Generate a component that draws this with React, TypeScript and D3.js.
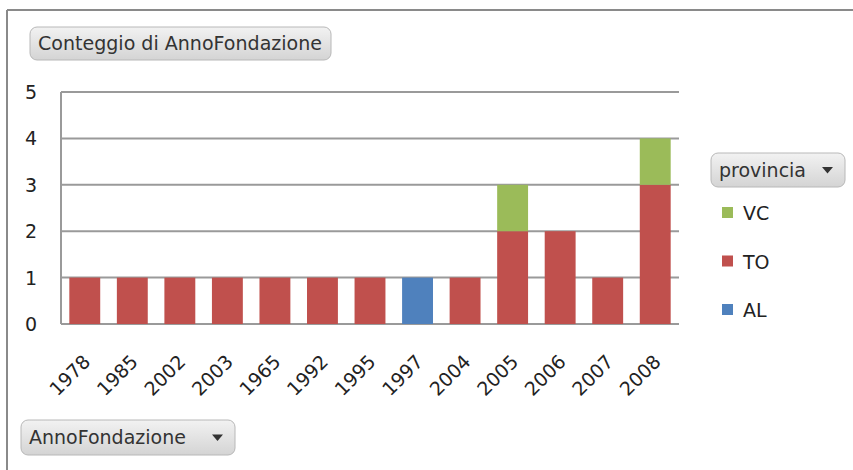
import React from "react";
import * as d3 from "d3";

const categories = ["1978","1985","2002","2003","1965","1992","1995","1997","2004","2005","2006","2007","2008"];
const AL = [0,0,0,0,0,0,0,1,0,0,0,0,0];
const TO = [1,1,1,1,1,1,1,0,1,2,2,1,3];
const VC = [0,0,0,0,0,0,0,0,0,1,0,0,1];
const seriesNames = ["AL","TO","VC"];
const seriesColors = ["#4f81bd","#c0504d","#9bbb59"];
const yTicks = [0,1,2,3,4,5];
const legendOrder = ["VC","TO","AL"];

const FONT = "'DejaVu Sans', sans-serif";

function Button({x, y, w, h, label, arrow, id, tl}: {x:number;y:number;w:number;h:number;label:string;arrow?:boolean;id:string;tl?:number}) {
  return (
    <g>
      <defs>
        <linearGradient id={id} x1="0" y1="0" x2="0" y2="1">
          <stop offset="0" stopColor="#f2f2f2" />
          <stop offset="1" stopColor="#d4d4d4" />
        </linearGradient>
      </defs>
      <rect x={x} y={y} width={w} height={h} rx={7} ry={7} fill={`url(#${id})`} stroke="#b8b8b8" strokeWidth={1} />
      <text x={x + 8} y={y + h / 2 + 6.5} fontFamily={FONT} fontSize={19} fill="#333"
        textLength={tl} lengthAdjust={tl ? "spacingAndGlyphs" : undefined}>{label}</text>
      {arrow && (
        <path d={`M${x + w - 23},${y + h / 2 - 3} l11,0 l-5.5,6.5 z`} fill="#333" />
      )}
    </g>
  );
}

export default function App() {
  const W = 853, H = 470;
  const left = 61, right = 679, top = 92, bottom = 324;
  const x = d3.scaleBand<string>().domain(categories).range([left, right]).paddingInner(0.35).paddingOuter(0.175);
  const y = d3.scaleLinear().domain([0, 5]).range([bottom, top]);
  const data = categories.map((c, i) => ({ cat: c, AL: AL[i], TO: TO[i], VC: VC[i] }));
  const stack = d3.stack<any>().keys(seriesNames)(data);

  return (
    <svg width={W} height={H} style={{ position: "absolute", left: 0, top: 0, background: "#fff" }}>
      <rect x={0} y={0} width={W} height={H} fill="#fff" />
      <line x1={7} y1={10} x2={W} y2={10} stroke="#8a8a8a" strokeWidth={2} />
      <line x1={7} y1={10} x2={7} y2={H} stroke="#8a8a8a" strokeWidth={2} />

      <Button x={30} y={27} w={301} h={33} label="Conteggio di AnnoFondazione" id="g1" tl={284} />

      {yTicks.map(t => (
        <g key={t}>
          <line x1={left} x2={right} y1={y(t)} y2={y(t)} stroke="#9a9a9a" strokeWidth={2} />
          <text x={37} y={y(t) + 7} textAnchor="end" fontFamily={FONT} fontSize={19} fill="#222">{t}</text>
        </g>
      ))}
      <line x1={left} x2={left} y1={top} y2={bottom} stroke="#9a9a9a" strokeWidth={2} />

      {stack.map((s, si) => (
        <g key={s.key} fill={seriesColors[si]}>
          {s.map((d, i) => d[1] - d[0] > 0 ? (
            <rect key={i} x={x(categories[i])!} width={x.bandwidth()} y={y(d[1])} height={y(d[0]) - y(d[1])} />
          ) : null)}
        </g>
      ))}

      {categories.map(c => {
        const cx = x(c)! + x.bandwidth() / 2 + 2;
        const cy = 358;
        return (
          <text key={c} transform={`translate(${cx},${cy}) rotate(-45)`} textAnchor="end" dy="0.36em"
            fontFamily={FONT} fontSize={19} fill="#222">{c}</text>
        );
      })}

      <Button x={711} y={153} w={134} h={34} label="provincia" arrow id="g2" />
      {legendOrder.map((n, i) => {
        const si = seriesNames.indexOf(n);
        const ly = 213 + i * 48.5;
        return (
          <g key={n}>
            <rect x={722} y={ly - 6} width={11} height={11} fill={seriesColors[si]} />
            <text x={743} y={ly + 7} fontFamily={FONT} fontSize={19} fill="#222">{n}</text>
          </g>
        );
      })}

      <Button x={21} y={420} w={214} h={35} label="AnnoFondazione" arrow id="g3" />
    </svg>
  );
}
